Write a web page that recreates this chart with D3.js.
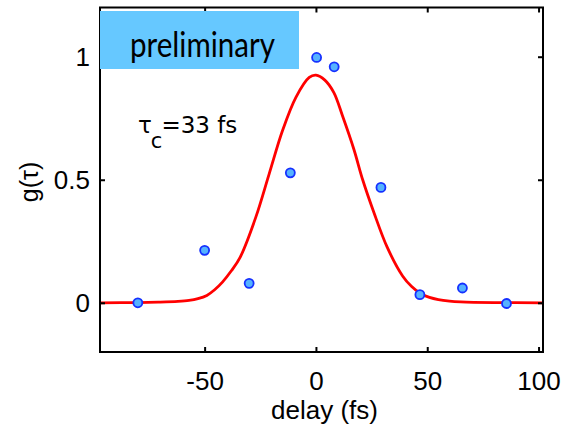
<!DOCTYPE html>
<html>
<head>
<meta charset="utf-8">
<script src="https://cdn.jsdelivr.net/npm/d3@7"></script>
<style>
  html, body { margin: 0; padding: 0; background: #fff; }
  svg { display: block; }
</style>
</head>
<body>
<svg id="chart" width="566" height="428"></svg>
<script>
// ---- data ----
const pointDelay = [-80, -50, -30, -11.5, 0.3, 8.2, 29.2, 46.7, 65.8, 85.6];
const pointG     = [0.0, 0.213, 0.079, 0.528, 0.997, 0.959, 0.469, 0.033, 0.06, -0.003];

const fitDelay = [-97, -80, -70, -62, -57, -53, -49, -45.5, -42, -38, -34, -27, -21, -15, -9, -3, 0, 4, 8, 12, 17, 21, 26, 32, 39, 43, 47, 51, 55, 60, 65, 80, 102];
const fitG     = [0.0, 0.001, 0.003, 0.006, 0.01, 0.017, 0.03, 0.053, 0.084, 0.13, 0.186, 0.348, 0.524, 0.70, 0.835, 0.916, 0.925, 0.905, 0.855, 0.758, 0.625, 0.50, 0.368, 0.226, 0.108, 0.066, 0.038, 0.022, 0.013, 0.007, 0.004, 0.001, 0.0];

const xTicks = [-50, 0, 50, 100];
const yTicks = [0, 0.5, 1];
const xDomain = [-97, 102];
const yDomain = [-0.2, 1.2];

const xLabel = "delay (fs)";
const yLabel = "g(τ)";
const noteMain = "τ";
const noteSub = "c";
const noteRest = "=33 fs";
const bannerText = "preliminary";

// ---- layout ----
const L = 100, R = 543, T = 7.5, B = 352;
const svg = d3.select("#chart");
const x = d3.scaleLinear().domain(xDomain).range([L, R]);
const y = d3.scaleLinear().domain(yDomain).range([B, T]);

const tickFont = "'Liberation Sans', Arial, sans-serif";

// fit curve
const line = d3.line().x(d => x(d[0])).y(d => y(d[1])).curve(d3.curveCatmullRom.alpha(0.5));
svg.append("path")
  .datum(d3.zip(fitDelay, fitG))
  .attr("d", line)
  .attr("fill", "none")
  .attr("stroke", "#ff0000")
  .attr("stroke-width", 2.8)
  .attr("stroke-linejoin", "round");

// points
svg.append("g").selectAll("circle")
  .data(d3.zip(pointDelay, pointG))
  .join("circle")
  .attr("cx", d => x(d[0]))
  .attr("cy", d => y(d[1]))
  .attr("r", 4.5)
  .attr("fill", "#55b2ff")
  .attr("stroke", "#1530ff")
  .attr("stroke-width", 1.8);

// axes (ticks inward on all four sides)
const tl = 5;
const axB = d3.axisBottom(x).tickValues(xTicks).tickSize(-tl).tickPadding(20).tickFormat(d3.format("d"));
const axT = d3.axisTop(x).tickValues(xTicks).tickSize(-tl).tickFormat("");
const axL = d3.axisLeft(y).tickValues(yTicks).tickSize(-tl).tickPadding(10).tickFormat(d => d3.format("")(d));
const axR = d3.axisRight(y).tickValues(yTicks).tickSize(-tl).tickFormat("");

function styleAxis(g) {
  g.select(".domain").remove();
  g.selectAll(".tick line").attr("stroke", "#000").attr("stroke-width", 2);
  g.selectAll(".tick text").attr("fill", "#000").style("font-family", tickFont).style("font-size", "26px");
}
svg.append("g").attr("transform", `translate(0,${B})`).call(axB).call(styleAxis)
  .selectAll(".tick text").text(d => d < 0 ? "-" + Math.abs(d) : d);
svg.append("g").attr("transform", `translate(0,${T})`).call(axT).call(styleAxis);
svg.append("g").attr("transform", `translate(${L},0)`).call(axL).call(styleAxis);
svg.append("g").attr("transform", `translate(${R},0)`).call(axR).call(styleAxis);

// frame
svg.append("rect")
  .attr("x", L).attr("y", T).attr("width", R - L).attr("height", B - T)
  .attr("fill", "none").attr("stroke", "#000").attr("stroke-width", 2);

// axis labels
svg.append("text")
  .attr("x", (L + R) / 2 + 3).attr("y", 419)
  .attr("text-anchor", "middle")
  .style("font-family", tickFont).style("font-size", "26px")
  .text(xLabel);
svg.append("text")
  .attr("transform", "translate(38,182) rotate(-90)")
  .attr("text-anchor", "middle")
  .style("font-family", tickFont).style("font-size", "25px")
  .text(yLabel);

// tau_c annotation
const note = svg.append("text")
  .attr("x", 138).attr("y", 133)
  .style("font-family", "'DejaVu Sans', Verdana, sans-serif").style("font-size", "23px");
note.append("tspan").text(noteMain);
note.append("tspan").attr("dy", 15).attr("dx", -1).style("font-size", "21px").text(noteSub);
note.append("tspan").attr("dy", -15).attr("dx", -1).text(noteRest);

// banner
svg.append("rect")
  .attr("x", 100).attr("y", 11).attr("width", 199).attr("height", 58)
  .attr("fill", "#66c8ff");
svg.append("text")
  .attr("x", 130).attr("y", 56.5)
  .attr("textLength", 145).attr("lengthAdjust", "spacingAndGlyphs")
  .style("font-family", "Lato, 'Open Sans', sans-serif").style("font-size", "34px")
  .attr("fill", "#000")
  .text(bannerText);
</script>
</body>
</html>
